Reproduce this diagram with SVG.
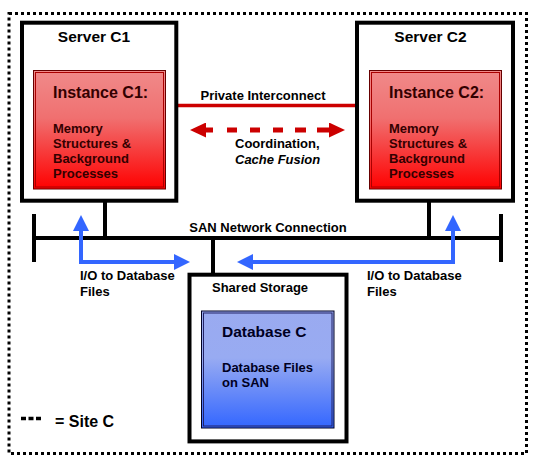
<svg xmlns="http://www.w3.org/2000/svg" width="533" height="465" viewBox="0 0 533 465">
<style>
text{font-family:"Liberation Sans",Arial,sans-serif;font-weight:bold;fill:#000}
.box{fill:#fff;stroke:#000;stroke-width:4}
.t15{font-size:15.5px}
.t13{font-size:13px}
.inst{fill:#300}
.db{fill:#002}
.bus{stroke:#000;stroke-width:4;fill:none}
.io{stroke:#3366ff;stroke-width:4;fill:none}
.red{stroke:#cc0000;fill:none}
</style>
<defs>
<linearGradient id="gRed" x1="0" y1="0" x2="0" y2="1">
<stop offset="0" stop-color="#f08a8a"/>
<stop offset="0.4" stop-color="#f07070"/>
<stop offset="1" stop-color="#ff0000"/>
</linearGradient>
<linearGradient id="gBlue" x1="0" y1="0" x2="0" y2="1">
<stop offset="0" stop-color="#9aaaf0"/>
<stop offset="0.4" stop-color="#98abf2"/>
<stop offset="1" stop-color="#3366ff"/>
</linearGradient>
<marker id="aBlue" viewBox="0 0 16 16" markerUnits="userSpaceOnUse" markerWidth="16" markerHeight="16" refX="8" refY="8" orient="auto-start-reverse">
<path d="M0,0 L16,8 L0,16 z" fill="#3366ff"/>
</marker>
<marker id="aRed" viewBox="0 0 16 15" markerUnits="userSpaceOnUse" markerWidth="16" markerHeight="15" refX="8" refY="7.5" orient="auto-start-reverse">
<path d="M0,0 L16,7.5 L0,15 z" fill="#cc0000"/>
</marker>
</defs>
<rect width="533" height="465" fill="#fff"/>
<g id="site-border">
<rect x="9" y="13.5" width="517.5" height="440" fill="none" stroke="#000" stroke-width="3" stroke-dasharray="3 3"/>
</g>
<g id="connectors">
<path class="bus" d="M34,238 H501 M34,214 V262 M501,214 V262 M105,201 V238 M429,201 V238 M213,238 V273"/>
<line class="red" x1="178" y1="105.5" x2="355" y2="105.5" stroke-width="3.5"/>
<path class="red" d="M198,130 H337" stroke-width="5" stroke-dasharray="15 14 10 13 10 13 10 12 11 11 20" marker-start="url(#aRed)" marker-end="url(#aRed)"/>
<path class="io" d="M81,223 V262 H182" marker-start="url(#aBlue)" marker-end="url(#aBlue)"/>
<path class="io" d="M245,262 H453 V223" marker-start="url(#aBlue)" marker-end="url(#aBlue)"/>
<text class="t13" x="263" y="100" text-anchor="middle">Private Interconnect</text>
<text class="t13" x="235" y="148">Coordination,</text>
<text class="t13" x="235" y="164" font-style="italic">Cache Fusion</text>
<text class="t13" x="268" y="232" text-anchor="middle">SAN Network Connection</text>
<text class="t13" x="80" y="280">I/O to Database</text>
<text class="t13" x="80" y="296">Files</text>
<text class="t13" x="367" y="280">I/O to Database</text>
<text class="t13" x="367" y="296">Files</text>
</g>
<g id="server-c1">
<rect class="box" x="22" y="22.7" width="154.3" height="178"/>
<text class="t15" x="94" y="42" text-anchor="middle">Server C1</text>
</g>
<g id="instance-c1">
<rect x="33.5" y="70.5" width="132" height="118.5" fill="url(#gRed)" stroke="#600" stroke-width="1"/>
<rect x="35.5" y="72.5" width="128" height="114.5" fill="none" stroke="#a00" stroke-width="1"/>
<text class="inst" x="53" y="98" font-size="16">Instance C1:</text>
<text class="inst t13" x="53" y="133">Memory</text>
<text class="inst t13" x="53" y="148">Structures &amp;</text>
<text class="inst t13" x="53" y="163">Background</text>
<text class="inst t13" x="53" y="178">Processes</text>
</g>
<g id="server-c2">
<rect class="box" x="357" y="22.7" width="156" height="178"/>
<text class="t15" x="430.5" y="42" text-anchor="middle">Server C2</text>
</g>
<g id="instance-c2">
<rect x="369.5" y="70.5" width="132" height="118.5" fill="url(#gRed)" stroke="#600" stroke-width="1"/>
<rect x="371.5" y="72.5" width="128" height="114.5" fill="none" stroke="#a00" stroke-width="1"/>
<text class="inst" x="389" y="98" font-size="16">Instance C2:</text>
<text class="inst t13" x="389" y="133">Memory</text>
<text class="inst t13" x="389" y="148">Structures &amp;</text>
<text class="inst t13" x="389" y="163">Background</text>
<text class="inst t13" x="389" y="178">Processes</text>
</g>
<g id="shared-storage">
<rect class="box" x="189.5" y="274.7" width="157" height="166.7"/>
<text class="t13" x="212" y="292">Shared Storage</text>
</g>
<g id="database-c">
<rect x="201.5" y="311" width="132.5" height="117" fill="url(#gBlue)" stroke="#002" stroke-width="1"/>
<rect x="203.5" y="313" width="128.5" height="113" fill="none" stroke="#226" stroke-width="1"/>
<text class="db" x="222" y="337" font-size="15.5">Database C</text>
<text class="db t13" x="222" y="372">Database Files</text>
<text class="db t13" x="222" y="387">on SAN</text>
</g>
<g id="legend">
<line x1="21" y1="418.5" x2="41" y2="418.5" stroke="#000" stroke-width="3.5" stroke-dasharray="5 2.5"/>
<text x="55" y="427" font-size="16">= Site C</text>
</g>
</svg>
